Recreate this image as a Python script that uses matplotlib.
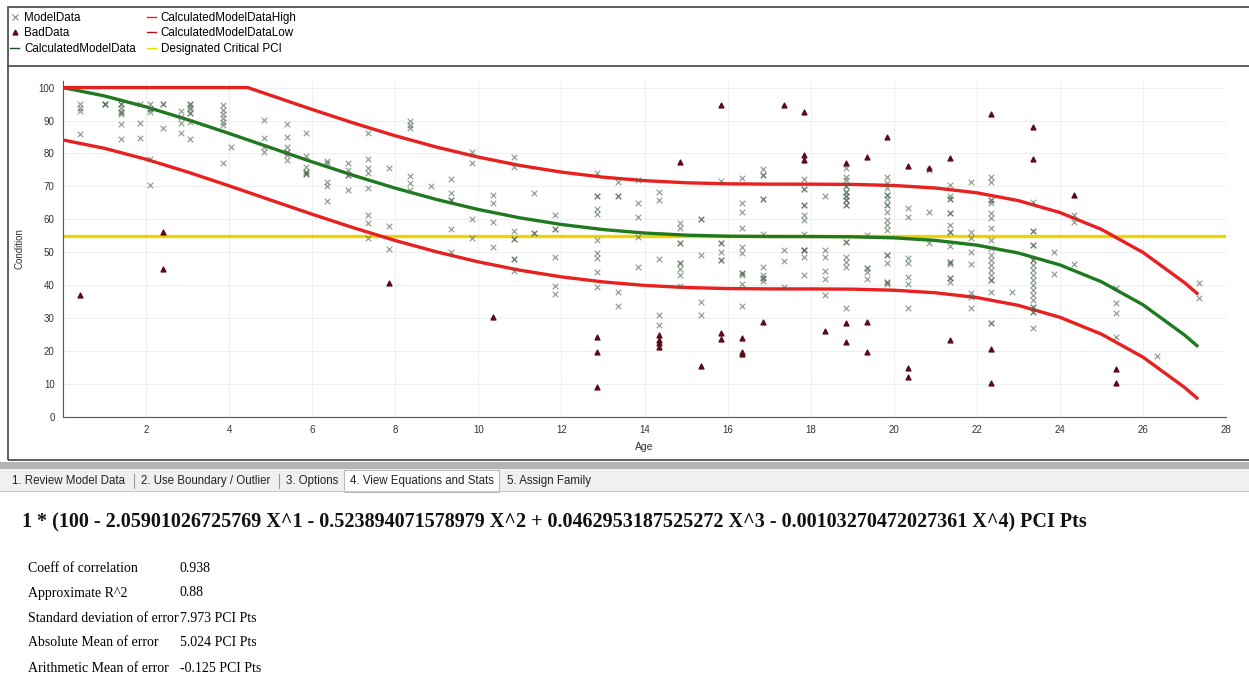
import matplotlib
matplotlib.use("Agg")
import matplotlib.pyplot as plt
from matplotlib.patches import Rectangle
from matplotlib.lines import Line2D

# Datos --------------------------------------------------------------
# ModelData: columnas de edad y condiciones en cada columna
model_x = [0.4, 1.0, 1.4, 1.85, 2.1, 2.4, 2.85, 3.05, 3.85, 4.05, 4.85, 5.4, 5.85,
           6.35, 6.85, 7.35, 7.85, 8.35, 8.85, 9.35, 9.85, 10.35, 10.85, 11.35,
           11.85, 12.85, 13.35, 13.85, 14.35, 14.85, 15.35, 15.85, 16.35, 16.85,
           17.35, 17.85, 18.35, 18.85, 19.35, 19.85, 20.35, 20.85, 21.35, 21.85,
           22.35, 22.85, 23.35, 23.85, 24.35, 25.35, 26.35, 27.35]
model_y = [
    [95.1, 93.9, 93, 86],
    [95.1, 95.1, 95.1],
    [95.1, 95.1, 93.9, 92.7, 92.7, 92.1, 89, 84.5],
    [95.1, 89.4, 84.8],
    [95.1, 93.6, 93.6, 92.7, 78.4, 70.5],
    [95.1, 95.1, 87.8],
    [93, 91.2, 89.4, 86.3],
    [95.1, 95.1, 94.2, 93.6, 92.4, 92.4, 89.7, 84.5],
    [94.8, 93.3, 92.1, 90.9, 89.7, 88.7, 77.2],
    [82],
    [90.3, 84.8, 82, 80.5],
    [89, 85, 82, 80.5, 80.5, 79.6, 78.1],
    [86.3, 79.3, 76, 74.5, 74.5, 73.9, 73.9],
    [77.8, 77.2, 71.4, 70, 65.7],
    [77.2, 75, 73.6, 73.6, 69],
    [86.3, 78.4, 75.7, 74.2, 69.6, 61.4, 59, 54.4],
    [75.7, 58, 51],
    [90, 88.7, 87.8, 73.3, 71.1, 69],
    [70.2],
    [72.3, 68, 66, 66, 57, 50.2],
    [80.5, 77.2, 60.2, 54.4],
    [67.5, 65, 59.3, 51.7],
    [79, 76, 56.5, 54, 54, 48, 48, 44.4],
    [68, 56, 56],
    [61.4, 57, 57, 48.6, 39.8, 37.4],
    [74, 67, 67, 63, 61.7, 53.8, 49.8, 48.3, 44, 39.5],
    [71.4, 67.2, 67.2, 38, 33.7],
    [72, 65, 60.8, 54.7, 45.6],
    [68.4, 66, 48, 31, 28],
    [59, 57.4, 52.9, 52.9, 46.8, 46.8, 45, 43.2, 39.8],
    [60, 60, 49.2, 35, 31],
    [71.7, 52.9, 52.9, 50.2, 47.7, 47.7],
    [72.6, 65, 62.3, 57.4, 51.7, 49.8, 43.8, 43.8, 43, 40.4, 33.7],
    [75.4, 73.6, 73.6, 66.3, 66.3, 55.6, 45.6, 43.2, 42.2, 42.2, 41.3],
    [50.8, 47.4, 39.5],
    [72.3, 69.3, 69.3, 64.4, 64.4, 61.4, 59.9, 55.6, 50.8, 50.8, 50.8, 48.6, 43.2],
    [67, 50.8, 48.6, 44.4, 41.9, 37],
    [75.6, 73, 72, 70, 70, 68.4, 68.4, 67, 67, 66, 66, 64.4, 64.4, 53.2, 53.2,
     48.6, 47, 45.6, 33],
    [55.3, 45.3, 45.3, 44, 41.9],
    [73, 71, 69.6, 67.5, 67.5, 66.3, 64.4, 64.4, 62.3, 59.9, 58.4, 56.8, 49.2,
     49.2, 46.8, 41, 41, 40.4],
    [63.5, 60.8, 48.3, 46.8, 42.6, 40.4, 33],
    [75, 62.3, 52.9],
    [70.5, 67, 66.3, 66.3, 62, 62, 58.4, 56.2, 56.2, 52, 47, 47, 46.5, 42.2, 42.2, 41],
    [71.4, 56.2, 54.4, 50.2, 46.5, 37.7, 36.5, 33.1],
    [73, 71.4, 66, 66, 65, 62, 60.5, 57.4, 53.8, 51.4, 49.2, 47.7, 46.2, 44.7,
     43.2, 41.6, 41.6, 38, 28.6, 28.6],
    [38],
    [65.4, 56.5, 56.5, 52.3, 52.3, 47.7, 47.7, 46.2, 44.7, 43.2, 41.6, 40.1, 38.5,
     37, 35.5, 33.3, 33.3, 31.8, 31.8, 27],
    [50.2, 43.5],
    [61.4, 59.3, 46.5],
    [39.2, 34.7, 31.6, 24.3],
    [18.5],
    [40.7, 36.2],
]

# BadData
bad_age = [0.4, 2.4, 2.4, 7.85, 10.35, 12.85, 12.85, 12.85, 14.35, 14.35, 14.35,
           14.35, 14.85, 15.35, 15.85, 15.85, 15.85, 16.35, 16.35, 16.35, 16.85,
           17.35, 17.85, 17.85, 17.85, 18.35, 18.85, 18.85, 18.85, 19.35, 19.35,
           19.35, 19.85, 20.35, 20.35, 20.35, 20.85, 21.35, 21.35, 22.35, 22.35,
           22.35, 23.35, 23.35, 24.35, 25.35, 25.35]
bad_cond = [37, 56.2, 45, 40.7, 30.4, 24.3, 19.8, 9.1, 25, 23.4, 22.5, 21.3, 77.5,
            15.5, 94.8, 25.5, 23.7, 24, 19.8, 19, 28.9, 94.8, 92.7, 79.6, 78.1,
            26.1, 77.2, 28.5, 22.8, 79, 28.9, 19.8, 85, 76.3, 14.9, 12.2, 75.6,
            78.7, 23.4, 92.1, 20.7, 10.3, 88.1, 78.4, 67.5, 14.6, 10.4]

# Curva calculada y limites
fit_age = [0, 1, 2, 3, 4, 5, 6, 7, 8, 9, 10, 11, 12, 13, 14, 15, 16, 17, 18, 19,
           20, 21, 22, 23, 24, 25, 26, 27, 27.3]
fit_cond = [100, 97.46, 94.14, 90.27, 86.08, 81.75, 77.45, 73.32, 69.47, 66.01,
            62.99, 60.46, 58.44, 56.91, 55.85, 55.21, 54.89, 54.79, 54.78, 54.71,
            54.39, 53.62, 52.17, 49.79, 46.18, 41.06, 34.08, 24.90, 21.66]
high_age = [0, 4.45, 5, 6, 7, 8, 9, 10, 11, 12, 13, 14, 15, 16, 17, 18, 19, 20,
            21, 22, 23, 24, 25, 26, 27, 27.3]
high_cond = [100, 100, 97.65, 93.35, 89.22, 85.37, 81.91, 78.89, 76.36, 74.34,
             72.81, 71.75, 71.11, 70.79, 70.69, 70.68, 70.61, 70.29, 69.52, 68.07,
             65.69, 62.08, 56.96, 49.98, 40.80, 37.56]
low_cond = [84.10, 81.56, 78.24, 74.37, 70.18, 65.85, 61.55, 57.42, 53.57, 50.11,
            47.09, 44.56, 42.54, 41.01, 39.95, 39.31, 38.99, 38.89, 38.88, 38.81,
            38.49, 37.72, 36.27, 33.89, 30.28, 25.16, 18.18, 9.00, 5.76]
critical_pci = 55

tabs = ["1. Review Model Data", "2. Use Boundary / Outlier", "3. Options",
        "4. View Equations and Stats", "5. Assign Family"]
equation = ("1 * (100 - 2.05901026725769 X^1 - 0.523894071578979 X^2 + "
            "0.0462953187525272 X^3 - 0.00103270472027361 X^4) PCI Pts")
stat_names = ["Coeff of correlation", "Approximate R^2", "Standard deviation of error",
              "Absolute Mean of error", "Arithmetic Mean of error"]
stat_values = ["0.938", "0.88", "7.973 PCI Pts", "5.024 PCI Pts", "-0.125 PCI Pts"]

# Figura --------------------------------------------------------------
W, H = 1249, 682
fig = plt.figure(figsize=(W / 100, H / 100), dpi=100)
plt.rcParams['font.family'] = ['Liberation Sans', 'DejaVu Sans']

def fx(x):
    return x / W

def fy(y):
    return 1 - y / H

ax = fig.add_axes([fx(63), fy(417), fx(1226) - fx(63), fy(81) - fy(417)])

mx, my = [], []
for x, ys in zip(model_x, model_y):
    for y in ys:
        mx.append(x)
        my.append(y)

ax.axhline(critical_pci, color='#f0d400', lw=2.4, zorder=2)
ax.plot(fit_age, fit_cond, color='#1f7a1f', lw=2.4, zorder=3)
ax.plot(high_age, high_cond, color='#e82020', lw=2.4, zorder=3)
ax.plot(fit_age, low_cond, color='#e82020', lw=2.4, zorder=3)
ax.scatter(mx, my, marker='x', s=16, color='#4a654a', alpha=0.6, linewidths=0.9, zorder=4)
ax.scatter(bad_age, bad_cond, marker='^', s=12, color='#5a0a14', zorder=5)

ax.set_xlim(0, 28)
ax.set_ylim(0, 102)
ax.set_xticks(range(2, 29, 2))
ax.set_yticks(range(0, 101, 10))
ax.grid(True, color='#efefef', lw=0.8)
ax.set_axisbelow(True)
for s in ['top', 'right']:
    ax.spines[s].set_visible(False)
for s in ['left', 'bottom']:
    ax.spines[s].set_color('#555555')
ax.tick_params(labelsize=7, colors='#333333', length=0, pad=6)
ax.set_xlabel('Age', fontsize=7.5, color='#333333', labelpad=5)
ax.set_ylabel('Condition', fontsize=7, color='#333333', labelpad=10)

# leyenda
handles = [
    Line2D([], [], marker='x', ls='none', color='#888888', ms=4, mew=0.8),
    Line2D([], [], marker='^', ls='none', color='#5a0a14', ms=3.5),
    Line2D([], [], color='#1f4f1f', lw=1),
    Line2D([], [], color='#e82020', lw=1),
    Line2D([], [], color='#c0101a', lw=1),
    Line2D([], [], color='#e8e000', lw=1),
]
labels = ["ModelData", "BadData", "CalculatedModelData", "CalculatedModelDataHigh",
          "CalculatedModelDataLow", "Designated Critical PCI"]
fig.legend(handles, labels, loc='upper left', bbox_to_anchor=(fx(10), fy(12)), ncol=2,
           frameon=False, fontsize=8.4, handlelength=0.8, handletextpad=0.4,
           columnspacing=0.95, labelspacing=0.3, borderpad=0, borderaxespad=0)

# marco del grafico
fig.patches.append(Rectangle((fx(8), fy(460)), 1.0, fy(7) - fy(460), transform=fig.transFigure,
                             fill=False, ec='#444444', lw=1.2))
fig.lines.append(Line2D([fx(8), 1], [fy(66), fy(66)], transform=fig.transFigure,
                        color='#444444', lw=1.2))

# pestañas
fig.patches.append(Rectangle((0, fy(469)), 1, fy(462) - fy(469), transform=fig.transFigure,
                             color='#b4b4b4', lw=0))
fig.patches.append(Rectangle((0, fy(491)), 1, fy(469) - fy(491), transform=fig.transFigure,
                             color='#f0f0f0', lw=0))
fig.lines.append(Line2D([0, 1], [fy(491), fy(491)], transform=fig.transFigure,
                        color='#c8c8c8', lw=0.8))
fig.patches.append(Rectangle((fx(344), fy(492)), fx(155), fy(470) - fy(492),
                             transform=fig.transFigure, fc='white', ec='#b8b8b8', lw=0.8))
tab_x = [12, 141, 286, 350, 507]
for t, x in zip(tabs, tab_x):
    fig.text(fx(x), fy(481), t, fontsize=8.3, va='center', color='#222222')
for x in [134, 279]:
    fig.lines.append(Line2D([fx(x), fx(x)], [fy(474), fy(488)], transform=fig.transFigure,
                            color='#999999', lw=0.8))

# ecuacion y estadisticas
fig.text(fx(22), fy(522), equation, fontsize=14.5, fontweight='bold',
         family='Liberation Serif', va='center', color='#111111')
for i, (n, v) in enumerate(zip(stat_names, stat_values)):
    y = 568 + 25 * i
    fig.text(fx(28), fy(y), n, fontsize=10.0, family='Liberation Serif', va='center')
    fig.text(fx(180), fy(y), v, fontsize=10.0, family='Liberation Serif', va='center')

fig.savefig('out.png', dpi=100)
